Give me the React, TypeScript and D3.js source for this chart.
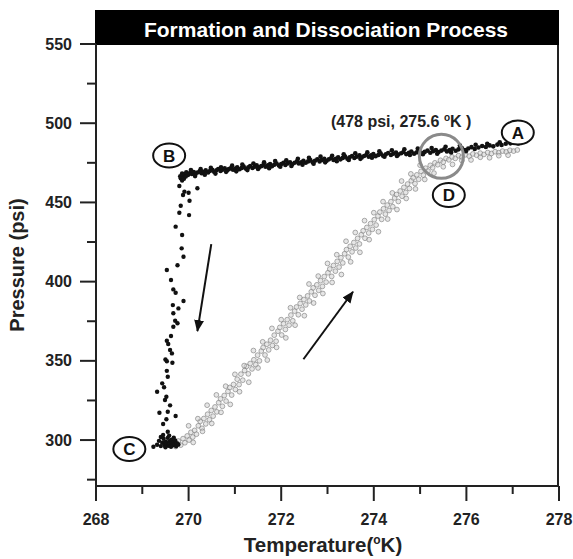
import React from "react";
import * as d3 from "d3";

// ---------- data ----------
const X_TICKS = [268, 270, 272, 274, 276, 278];
const X_MINOR = [269, 271, 273, 275, 277];
const Y_TICKS = [300, 350, 400, 450, 500, 550];
const Y_MINOR = [275, 325, 375, 425, 475, 525];

// Formation: cooling along the top band (A -> B)
const formationBand: [number, number][] = [
  [269.82, 466.5], [269.86, 468.2], [269.88, 466.9], [269.92, 467.8], [269.95, 469.0], [269.99, 467.4],
  [270.03, 468.6], [270.07, 467.9], [270.11, 469.2], [270.15, 468.1], [270.19, 468.9], [270.24, 469.6],
  [270.28, 468.4], [270.33, 469.3], [270.37, 470.2], [270.42, 468.9], [270.46, 469.8], [270.51, 470.6],
  [270.55, 469.4], [270.6, 470.3], [270.64, 471.1], [270.69, 469.9], [270.73, 470.7], [270.78, 471.5],
  [270.83, 470.2], [270.87, 471.0], [270.92, 471.9], [270.96, 470.6], [271.01, 471.4], [271.05, 472.2],
  [271.1, 470.9], [271.15, 471.8], [271.19, 472.6], [271.24, 471.3], [271.29, 472.1], [271.33, 473.0],
  [271.38, 471.7], [271.43, 472.5], [271.47, 473.4], [271.52, 472.1], [271.57, 472.9], [271.62, 473.8],
  [271.66, 472.5], [271.71, 473.4], [271.76, 474.2], [271.8, 472.9], [271.85, 473.8], [271.9, 474.6],
  [271.95, 473.3], [272.0, 474.2], [272.05, 475.0], [272.09, 473.7], [272.14, 474.6], [272.19, 475.4],
  [272.24, 474.1], [272.29, 475.0], [272.34, 475.9], [272.38, 474.6], [272.43, 475.4], [272.48, 476.3],
  [272.53, 475.0], [272.58, 475.9], [272.63, 476.7], [272.68, 475.4], [272.73, 476.3], [272.78, 477.2],
  [272.83, 475.9], [272.88, 476.8], [272.93, 477.6], [272.98, 476.3], [273.03, 477.2], [273.08, 478.0],
  [273.13, 476.8], [273.18, 477.6], [273.23, 478.5], [273.28, 477.2], [273.33, 478.1], [273.38, 478.9],
  [273.43, 477.6], [273.48, 478.5], [273.53, 479.3], [273.58, 478.0], [273.63, 478.9], [273.69, 479.7],
  [273.74, 478.4], [273.79, 479.3], [273.84, 480.1], [273.89, 478.8], [273.94, 479.7], [273.99, 480.5],
  [274.04, 479.2], [274.1, 480.0], [274.15, 480.8], [274.2, 479.5], [274.26, 480.4], [274.31, 481.2],
  [274.37, 479.9], [274.42, 480.7], [274.48, 481.5], [274.53, 480.2], [274.59, 481.0], [274.64, 481.8],
  [274.7, 480.5], [274.76, 481.3], [274.81, 482.1], [274.87, 480.8], [274.93, 481.6], [274.98, 482.4],
  [275.04, 481.1], [275.1, 481.9], [275.16, 482.7], [275.22, 481.4], [275.28, 482.3], [275.34, 483.1],
  [275.4, 481.8], [275.46, 482.7], [275.52, 483.5], [275.58, 482.2], [275.64, 483.1], [275.7, 483.9],
  [275.77, 482.6], [275.83, 483.5], [275.9, 484.3], [275.97, 483.1], [276.04, 484.0], [276.11, 484.9],
  [276.18, 483.7], [276.26, 484.7], [276.34, 485.6], [276.42, 485.0], [276.5, 486.0], [276.58, 485.4],
  [276.67, 486.5], [276.76, 486.2], [276.85, 487.0], [276.95, 487.3], [277.05, 488.0], [277.12, 487.2],
];

// Formation band: outer scatter of the same run
const formationBandOuter: [number, number][] = [
  [270.05, 470.4], [270.14, 466.6], [270.26, 471.0], [270.35, 467.5], [270.48, 471.8], [270.58, 468.2],
  [270.7, 472.1], [270.81, 469.3], [270.94, 473.2], [271.03, 469.6], [271.16, 473.9], [271.27, 470.4],
  [271.4, 474.6], [271.5, 471.1], [271.63, 475.4], [271.74, 471.6], [271.87, 476.1], [271.98, 472.5],
  [272.11, 476.6], [272.22, 473.0], [272.36, 477.5], [272.46, 473.8], [272.6, 478.2], [272.7, 474.4],
  [272.85, 478.9], [272.95, 475.3], [273.1, 479.5], [273.2, 476.0], [273.35, 480.4], [273.46, 476.8],
  [273.6, 481.0], [273.71, 477.5], [273.86, 481.7], [273.96, 478.2], [274.12, 482.3], [274.23, 478.8],
  [274.39, 482.9], [274.5, 479.3], [274.66, 483.6], [274.78, 479.9], [274.95, 484.0], [275.06, 480.4],
  [275.25, 484.4], [275.37, 480.8], [275.55, 485.1], [275.67, 481.5], [275.86, 485.9], [275.99, 482.3],
  [276.2, 486.4], [276.45, 487.0], [276.72, 488.0], [277.0, 489.6],
];

// Formation: pressure drop (B -> C)
const formationDrop: [number, number][] = [
  [269.83, 465.2], [269.86, 463.8], [269.9, 464.9], [269.94, 466.3],
  [269.8, 460.4], [270.19, 458.9], [269.91, 456.8], [270.0, 456.1], [269.88, 454.7], [270.02, 451.1],
  [269.83, 447.9], [269.8, 443.5], [270.01, 442.0], [269.72, 434.7], [269.86, 429.4], [269.85, 421.0],
  [269.89, 415.7], [269.76, 410.3], [269.53, 407.3], [269.62, 401.0], [269.67, 395.1], [269.72, 393.0],
  [269.89, 387.8], [269.66, 385.2], [269.78, 383.1], [269.67, 380.0], [269.71, 375.3], [269.76, 373.7],
  [269.67, 371.5], [269.62, 365.7], [269.53, 362.7], [269.56, 360.6], [269.6, 356.8], [269.64, 354.7],
  [269.5, 350.9], [269.53, 349.7], [269.65, 348.8], [269.53, 343.7], [269.55, 340.0], [269.43, 335.8],
  [269.47, 333.3], [269.32, 330.5], [269.52, 327.3], [269.49, 325.3], [269.6, 321.9], [269.37, 317.2],
  [269.55, 317.9], [269.72, 315.2], [269.52, 313.1], [269.45, 310.1], [269.55, 305.2],
  [269.32, 297.0], [269.36, 299.5], [269.4, 296.2], [269.43, 298.3], [269.46, 300.8], [269.48, 296.9],
  [269.51, 298.9], [269.53, 297.5], [269.55, 301.4], [269.57, 296.4], [269.59, 299.2], [269.61, 297.8],
  [269.63, 300.2], [269.65, 296.8], [269.67, 298.6], [269.69, 297.3], [269.71, 299.8], [269.73, 296.1],
  [269.75, 298.0], [269.45, 303.2], [269.58, 302.8], [269.68, 301.5], [269.78, 297.2], [269.4, 301.9],
  [269.62, 295.8], [269.5, 295.5], [269.24, 295.8],
];

// Dissociation: heating (C -> D -> A)
const dissociation: [number, number][] = [
  [269.64, 297.8], [269.72, 295.9], [269.78, 299.4], [269.83, 296.8], [269.88, 300.9], [269.92, 298.3],
  [269.97, 302.6], [270.01, 300.0], [270.05, 304.9], [270.09, 301.9], [270.13, 306.1], [270.17, 303.7],
  [270.21, 309.0], [270.25, 311.8], [270.29, 307.4], [270.33, 313.6], [270.37, 310.2], [270.41, 316.3],
  [270.45, 312.8], [270.49, 318.7], [270.53, 315.1], [270.57, 320.9], [270.61, 317.8], [270.65, 323.6],
  [270.69, 326.0], [270.73, 321.3], [270.77, 328.1], [270.81, 324.6], [270.85, 330.7], [270.89, 333.2],
  [270.93, 328.4], [270.97, 335.1], [271.01, 331.9], [271.05, 338.4], [271.09, 335.0], [271.13, 341.6],
  [271.17, 337.8], [271.21, 343.9], [271.25, 346.5], [271.29, 341.8], [271.33, 348.3], [271.37, 344.9],
  [271.41, 350.7], [271.45, 347.6], [271.49, 353.6], [271.53, 350.0], [271.57, 356.2], [271.61, 358.4],
  [271.65, 353.7], [271.69, 360.5], [271.73, 356.9], [271.77, 363.0], [271.81, 359.7], [271.85, 366.2],
  [271.89, 362.4], [271.93, 368.7], [271.97, 371.1], [272.01, 366.3], [272.05, 373.4], [272.09, 369.8],
  [272.13, 376.0], [272.17, 372.5], [272.21, 378.9], [272.25, 375.3], [272.29, 381.4], [272.33, 384.0],
  [272.37, 379.1], [272.41, 386.2], [272.45, 382.6], [272.49, 388.7], [272.53, 385.3], [272.57, 391.0],
  [272.61, 387.8], [272.65, 393.6], [272.69, 396.1], [272.73, 391.4], [272.77, 398.0], [272.81, 394.5],
  [272.85, 400.6], [272.89, 397.0], [272.93, 403.2], [272.97, 399.7], [273.01, 405.6], [273.05, 408.0],
  [273.09, 403.3], [273.13, 410.2], [273.17, 406.6], [273.21, 412.8], [273.25, 409.2], [273.29, 415.1],
  [273.33, 411.8], [273.37, 417.6], [273.41, 420.2], [273.45, 415.5], [273.49, 422.3], [273.53, 418.8],
  [273.57, 424.7], [273.61, 421.2], [273.65, 427.3], [273.69, 423.8], [273.73, 429.6], [273.77, 432.1],
  [273.81, 427.4], [273.85, 434.2], [273.89, 430.7], [273.93, 436.6], [273.97, 433.0], [274.01, 439.1],
  [274.05, 435.7], [274.09, 441.4], [274.13, 443.9], [274.17, 439.3], [274.21, 446.0], [274.25, 442.6],
  [274.29, 448.3], [274.33, 444.9], [274.37, 450.5], [274.41, 447.3], [274.45, 452.8], [274.49, 455.0],
  [274.53, 450.6], [274.57, 457.2], [274.61, 453.9], [274.65, 459.5], [274.69, 456.3], [274.73, 461.6],
  [274.77, 458.8], [274.81, 463.7], [274.85, 465.5], [274.89, 461.9], [274.93, 467.4], [274.97, 464.6],
  [275.02, 469.6], [275.07, 467.2], [275.12, 471.6], [275.17, 469.8], [275.22, 473.4], [275.27, 471.9],
  [275.32, 475.0], [275.38, 473.8], [275.44, 476.6], [275.5, 475.4], [275.56, 477.8], [275.62, 476.9],
  [275.69, 478.7], [275.76, 477.8], [275.83, 479.5], [275.9, 478.5], [275.98, 480.1], [276.06, 479.2],
  [276.14, 480.6], [276.22, 479.8], [276.3, 481.1], [276.38, 480.3], [276.46, 481.5], [276.54, 480.9],
  [276.62, 482.0], [276.7, 481.4], [276.78, 482.4], [276.86, 481.9], [276.94, 482.9], [277.02, 482.4],
  [277.1, 483.1],
];

// Dissociation: outer scatter of the same run
const dissociationOuter: [number, number][] = [
  [270.0, 309.0], [270.2, 313.5], [270.4, 322.0], [270.6, 328.5], [270.8, 334.0], [271.0, 341.5],
  [271.2, 347.0], [271.4, 356.5], [271.6, 362.0], [271.8, 370.5], [272.0, 376.0], [272.2, 383.5],
  [272.4, 390.0], [272.6, 398.5], [272.8, 403.5], [273.0, 411.5], [273.2, 417.0], [273.4, 425.5],
  [273.6, 431.0], [273.8, 438.5], [274.0, 443.5], [274.2, 450.5], [274.4, 456.0], [274.6, 463.5],
  [274.8, 468.0], [275.0, 473.5],
  [270.1, 298.5], [270.3, 305.5], [270.5, 310.5], [270.7, 317.5], [270.9, 322.5], [271.1, 330.5],
  [271.3, 336.5], [271.5, 345.5], [271.7, 350.5], [271.9, 358.5], [272.1, 364.5], [272.3, 372.5],
  [272.5, 378.5], [272.7, 386.5], [272.9, 392.5], [273.1, 399.5], [273.3, 404.5], [273.5, 412.5],
  [273.7, 418.5], [273.9, 426.5], [274.1, 431.5], [274.3, 439.5], [274.5, 445.5], [274.7, 452.5],
  [274.9, 458.5], [275.1, 464.5], [275.3, 468.5], [275.5, 472.5], [275.7, 474.0], [275.9, 476.5],
  [276.1, 476.8], [276.3, 478.5], [276.5, 478.2], [276.7, 479.5], [276.9, 479.8],
];

// State labels (data coordinates)
const stateLabels: { t: string; x: number; y: number }[] = [
  { t: "A", x: 277.11, y: 494.1 },
  { t: "B", x: 269.58, y: 479.6 },
  { t: "C", x: 268.72, y: 294.3 },
  { t: "D", x: 275.62, y: 454.7 },
];

// Arrows (data coordinates): [x1, y1, x2, y2]
const arrows: [number, number, number, number][] = [
  [270.49, 423.7, 270.19, 368.8],
  [272.48, 351.0, 273.55, 393.6],
];

const highlight = { x: 275.46, y: 479.1 };
const annotation = { x: 274.59, y: 500.8, psi: "478 psi", temp: "275.6 " };

const TITLE = "Formation and Dissociation Process";

export default function App() {
  const W = 573;
  const H = 559;
  const left = 96, right = 559, top = 44, bottom = 486;
  const x = d3.scaleLinear().domain([268, 278]).range([left, right]);
  const y = d3.scaleLinear().domain([271, 550]).range([bottom, top]);
  const font = "'Liberation Sans', Arial, Helvetica, sans-serif";
  const axisColor = "#222";
  const grayPts = [...dissociation, ...dissociationOuter];
  const blackPts = [...formationBand, ...formationBandOuter];

  return (
    <div style={{ position: "absolute", left: 0, top: 0 }}>
      <svg width={W} height={H} viewBox={`0 0 ${W} ${H}`} style={{ display: "block", background: "#fff" }}>
        <defs>
          <marker id="ah" viewBox="0 0 12 10" refX="11" refY="5" markerWidth="12" markerHeight="10"
            markerUnits="userSpaceOnUse" orient="auto">
            <path d="M0,0 L12,5 L0,10 Z" fill="#111" />
          </marker>
        </defs>

        {/* title bar */}
        <rect x={95} y={10} width={464} height={35} fill="#000" />
        <text x={326} y={36.5} textAnchor="middle" fill="#fff" fontFamily={font} fontWeight="bold" fontSize={21}>
          {TITLE}
        </text>

        {/* frame */}
        <line x1={left} x2={left} y1={top} y2={bottom} stroke={axisColor} strokeWidth={2} />
        <line x1={left - 1} x2={right} y1={bottom} y2={bottom} stroke={axisColor} strokeWidth={2} />
        <line x1={right - 1} x2={right - 1} y1={45} y2={bottom} stroke={axisColor} strokeWidth={2} />

        {/* y ticks */}
        {Y_TICKS.map((v) => (
          <g key={"y" + v}>
            <line x1={left - 16} x2={left} y1={y(v)} y2={y(v)} stroke={axisColor} strokeWidth={2} />
            <text x={72} y={y(v) + 5.5} textAnchor="end" fontFamily={font} fontWeight="bold" fontSize={16} fill="#222">
              {v}
            </text>
          </g>
        ))}
        {Y_MINOR.map((v) => (
          <line key={"ym" + v} x1={left - 9} x2={left} y1={y(v)} y2={y(v)} stroke={axisColor} strokeWidth={2} />
        ))}

        {/* x ticks */}
        {X_TICKS.map((v) => (
          <g key={"x" + v}>
            <line x1={x(v)} x2={x(v)} y1={bottom} y2={bottom + 15} stroke={axisColor} strokeWidth={2} />
            <text x={x(v)} y={525} textAnchor="middle" fontFamily={font} fontWeight="bold" fontSize={16} fill="#222">
              {v}
            </text>
          </g>
        ))}
        {X_MINOR.map((v) => (
          <line key={"xm" + v} x1={x(v)} x2={x(v)} y1={bottom} y2={bottom + 8} stroke={axisColor} strokeWidth={2} />
        ))}

        {/* axis titles */}
        <text x={323} y={552} textAnchor="middle" fontFamily={font} fontWeight="bold" fontSize={20.5} fill="#222">
          Temperature(<tspan fontSize={12} dy={-8}>o</tspan><tspan dy={8}>K)</tspan>
        </text>
        <text transform={`translate(24,265) rotate(-90)`} textAnchor="middle" fontFamily={font} fontWeight="bold"
          fontSize={20} fill="#222">
          Pressure (psi)
        </text>

        {/* dissociation (gray) */}
        <g>
          {grayPts.map((d, i) => (
            <circle key={"g" + i} cx={x(d[0])} cy={y(d[1])} r={2.4} fill="#d2d2d2" fillOpacity={0.55}
              stroke="#7c7c7c" strokeOpacity={0.7} strokeWidth={0.9} />
          ))}
        </g>

        {/* formation (black) */}
        <g>
          {blackPts.map((d, i) => (
            <circle key={"b" + i} cx={x(d[0])} cy={y(d[1])} r={2.3} fill="#111" />
          ))}
          {formationDrop.map((d, i) => (
            <circle key={"d" + i} cx={x(d[0])} cy={y(d[1])} r={2.2} fill="#111" />
          ))}
        </g>

        {/* highlight circle */}
        <circle cx={x(highlight.x)} cy={y(highlight.y)} r={22} fill="none" stroke="#8a8a8a" strokeWidth={3} />
        <text x={x(annotation.x)} y={y(annotation.y) + 5.5} textAnchor="middle" fontFamily={font} fontWeight="bold"
          fontSize={16} fill="#222">
          ({annotation.psi}, {annotation.temp}<tspan fontSize={10} dy={-6}>o</tspan><tspan dy={6}>K )</tspan>
        </text>

        {/* state labels */}
        {stateLabels.map((s) => (
          <g key={s.t}>
            <ellipse cx={x(s.x)} cy={y(s.y)} rx={16} ry={12} fill="#fff" stroke="#111" strokeWidth={2} />
            <text x={x(s.x)} y={y(s.y) + 6} textAnchor="middle" fontFamily={font} fontWeight="bold" fontSize={17}
              fill="#111">
              {s.t}
            </text>
          </g>
        ))}

        {/* arrows */}
        {arrows.map((a, i) => (
          <line key={"a" + i} x1={x(a[0])} y1={y(a[1])} x2={x(a[2])} y2={y(a[3])} stroke="#111" strokeWidth={2}
            markerEnd="url(#ah)" />
        ))}
      </svg>
    </div>
  );
}
